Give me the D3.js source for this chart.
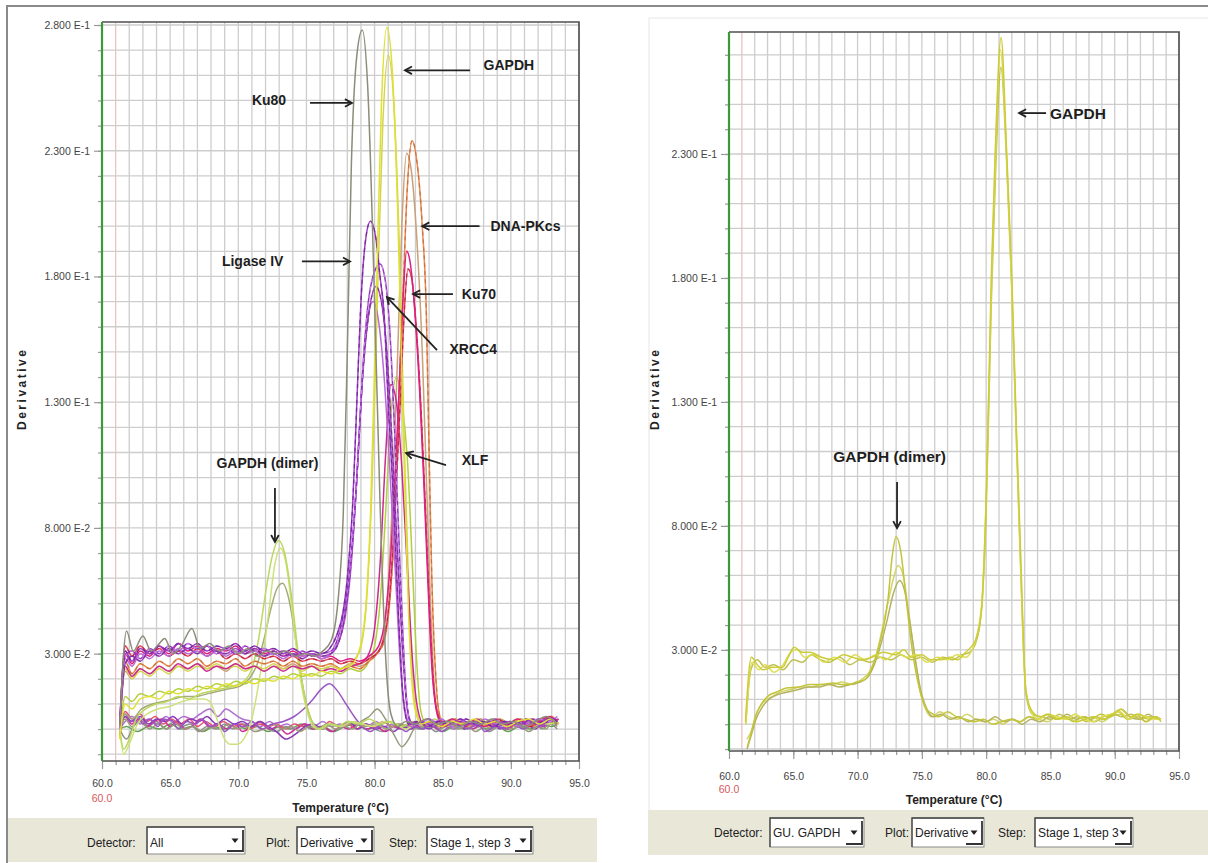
<!DOCTYPE html>
<html>
<head>
<meta charset="utf-8">
<script src="https://cdn.jsdelivr.net/npm/d3@7"></script>
<style>
  body { margin: 0; background: #fff; }
  svg { display: block; font-family: "Liberation Sans", Arial, sans-serif; }
</style>
</head>
<body>
<svg id="fig" width="1208" height="863"></svg>
<script>
// ---------- Axis ticks ----------
const xTickValues = [60, 65, 70, 75, 80, 85, 90, 95];
const leftYTicks = [0.03, 0.08, 0.13, 0.18, 0.23, 0.28];
const leftYTickLabels = ["3.000 E-2", "8.000 E-2", "1.300 E-1", "1.800 E-1", "2.300 E-1", "2.800 E-1"];
const rightYTicks = [0.03, 0.08, 0.13, 0.18, 0.23];
const rightYTickLabels = ["3.000 E-2", "8.000 E-2", "1.300 E-1", "1.800 E-1", "2.300 E-1"];

// ---------- Melt curves, all detectors: [temperature °C, -dF/dT] ----------
const ku80 = [[61.3,.001],[61.8,.039],[62.3,.031],[63.0,.037],[63.6,.031],[64.2,.034],[64.6,.036],[65.2,.030],[65.8,.033],[66.6,.040],[67.2,.032],[67.9,.034],[68.6,.031],[69.3,.033],[70.0,.030],[70.7,.032],[71.4,.029],[72.1,.031],[72.8,.030],[73.5,.031],[74.2,.029],[74.9,.030],[75.6,.029],[76.2,.031],[76.8,.035],[77.3,.050],[77.7,.085],[78.0,.150],[78.3,.225],[78.7,.268],[79.1,.278],[79.5,.255],[80.0,.170],[80.4,.090],[80.8,.030],[81.2,.006],[81.7,.001],[82.3,.003],[83.0,.002],[83.8,.004],[84.6,.002],[85.4,.003],[86.2,.001],[87.0,.003],[87.8,.002],[88.6,.004],[89.4,.002],[90.2,.003],[91.0,.001],[91.8,.003],[92.6,.005],[93.4,.002]];
const gapdhA = [[61.3,-.004],[61.7,.010],[62.2,.008],[62.8,.012],[63.5,.013],[64.2,.012],[64.9,.015],[65.6,.014],[66.3,.016],[67.0,.015],[67.7,.017],[68.4,.016],[69.1,.018],[69.8,.017],[70.5,.019],[71.2,.018],[71.9,.020],[72.6,.019],[73.3,.021],[74.0,.020],[74.7,.022],[75.4,.021],[76.1,.023],[76.8,.022],[77.5,.024],[78.2,.025],[78.8,.030],[79.3,.045],[79.7,.085],[80.1,.165],[80.5,.248],[80.9,.279],[81.3,.262],[81.7,.205],[82.1,.120],[82.5,.045],[82.9,.010],[83.4,.002],[84.1,.003],[84.9,.001],[85.7,.003],[86.5,.002],[87.3,.004],[88.1,.002],[88.9,.003],[89.7,.001],[90.5,.003],[91.3,.004],[92.1,.002],[92.9,.004],[93.4,.002]];
const gapdhB = [[61.3,.000],[61.7,.024],[62.2,.020],[62.8,.023],[63.5,.021],[64.2,.024],[64.9,.022],[65.6,.025],[66.3,.023],[67.0,.025],[67.7,.024],[68.4,.026],[69.1,.024],[69.8,.025],[70.5,.023],[71.2,.025],[71.9,.024],[72.6,.026],[73.3,.024],[74.0,.025],[74.7,.023],[75.4,.025],[76.1,.024],[76.8,.025],[77.5,.024],[78.2,.026],[78.9,.031],[79.4,.050],[79.8,.095],[80.2,.170],[80.6,.240],[81.0,.268],[81.4,.250],[81.8,.195],[82.2,.110],[82.6,.040],[83.0,.009],[83.5,.002],[84.2,.003],[85.0,.002],[85.8,.004],[86.6,.002],[87.4,.003],[88.2,.001],[89.0,.003],[89.8,.002],[90.6,.004],[91.4,.002],[92.2,.003],[93.0,.004],[93.5,.002]];
const dnapkA = [[61.3,.000],[61.7,.027],[62.2,.022],[62.8,.026],[63.5,.024],[64.2,.027],[64.9,.025],[65.6,.028],[66.3,.026],[67.0,.028],[67.7,.025],[68.4,.027],[69.1,.026],[69.8,.028],[70.5,.025],[71.2,.027],[71.9,.026],[72.6,.027],[73.3,.025],[74.0,.027],[74.7,.025],[75.4,.026],[76.1,.025],[76.8,.026],[77.5,.024],[78.2,.025],[78.9,.024],[79.6,.027],[80.2,.030],[80.7,.035],[81.1,.050],[81.5,.085],[81.8,.135],[82.1,.175],[82.4,.215],[82.75,.234],[83.1,.226],[83.5,.200],[83.8,.165],[84.0,.110],[84.2,.060],[84.5,.020],[84.8,.005],[85.2,.002],[85.9,.004],[86.7,.002],[87.5,.003],[88.3,.001],[89.1,.003],[89.9,.002],[90.7,.004],[91.5,.002],[92.3,.003],[93.0,.005],[93.5,.002]];
const dnapkB = [[61.3,.001],[61.7,.023],[62.2,.020],[62.8,.024],[63.5,.022],[64.2,.025],[64.9,.023],[65.6,.025],[66.3,.024],[67.0,.026],[67.7,.024],[68.4,.025],[69.1,.023],[69.8,.026],[70.5,.024],[71.2,.025],[71.9,.023],[72.6,.025],[73.3,.024],[74.0,.026],[74.7,.024],[75.4,.025],[76.1,.023],[76.8,.025],[77.5,.024],[78.2,.026],[78.9,.025],[79.6,.027],[80.1,.030],[80.5,.033],[80.9,.050],[81.3,.090],[81.7,.150],[82.0,.200],[82.35,.229],[82.7,.222],[83.1,.195],[83.5,.150],[83.8,.100],[84.1,.050],[84.4,.015],[84.7,.004],[85.2,.002],[86.0,.003],[86.8,.001],[87.6,.003],[88.4,.002],[89.2,.004],[90.0,.002],[90.8,.003],[91.6,.001],[92.4,.003],[93.1,.004],[93.5,.002]];
const ku70A = [[61.3,.001],[61.7,.030],[62.2,.026],[62.8,.031],[63.5,.029],[64.2,.033],[64.9,.030],[65.6,.034],[66.3,.031],[67.0,.033],[67.7,.030],[68.4,.032],[69.1,.031],[69.8,.033],[70.5,.030],[71.2,.032],[71.9,.030],[72.6,.031],[73.3,.029],[74.0,.031],[74.7,.029],[75.4,.030],[76.1,.028],[76.8,.029],[77.5,.027],[78.2,.028],[78.9,.027],[79.6,.029],[80.3,.033],[80.8,.045],[81.2,.070],[81.5,.100],[81.8,.135],[82.1,.172],[82.35,.190],[82.6,.186],[82.9,.170],[83.3,.135],[83.6,.100],[83.9,.060],[84.2,.025],[84.6,.006],[85.0,.002],[85.7,.004],[86.5,.002],[87.3,.003],[88.1,.001],[88.9,.003],[89.7,.002],[90.5,.004],[91.3,.002],[92.1,.003],[92.8,.005],[93.4,.003]];
const ku70B = [[61.3,.000],[61.7,.033],[62.2,.029],[62.8,.033],[63.5,.030],[64.2,.032],[64.9,.029],[65.6,.031],[66.3,.029],[67.0,.032],[67.7,.029],[68.4,.031],[69.1,.028],[69.8,.030],[70.5,.028],[71.2,.030],[71.9,.028],[72.6,.029],[73.3,.027],[74.0,.029],[74.7,.027],[75.4,.028],[76.1,.027],[76.8,.028],[77.5,.026],[78.2,.027],[78.9,.026],[79.6,.028],[80.3,.031],[80.9,.042],[81.3,.068],[81.6,.098],[81.9,.132],[82.2,.168],[82.45,.183],[82.7,.180],[83.0,.164],[83.4,.128],[83.7,.092],[84.0,.052],[84.3,.020],[84.7,.005],[85.1,.002],[85.8,.003],[86.6,.001],[87.4,.003],[88.2,.002],[89.0,.004],[89.8,.002],[90.6,.003],[91.4,.001],[92.2,.003],[92.9,.004],[93.4,.002]];
const ligaseA = [[61.3,.002],[61.7,.031],[62.2,.027],[62.8,.032],[63.5,.030],[64.2,.033],[64.9,.031],[65.6,.034],[66.3,.032],[67.0,.034],[67.7,.031],[68.4,.033],[69.1,.032],[69.8,.034],[70.5,.031],[71.2,.033],[71.9,.031],[72.6,.032],[73.3,.030],[74.0,.032],[74.7,.030],[75.4,.031],[76.1,.030],[76.7,.032],[77.2,.037],[77.7,.047],[78.0,.060],[78.4,.090],[78.7,.130],[79.0,.170],[79.35,.195],[79.7,.202],[80.1,.195],[80.4,.180],[80.7,.165],[81.0,.130],[81.4,.090],[81.8,.040],[82.1,.012],[82.5,.002],[83.1,.003],[83.9,.001],[84.7,.003],[85.5,.002],[86.3,.004],[87.1,.002],[87.9,.003],[88.7,.001],[89.5,.003],[90.3,.002],[91.1,.004],[91.9,.002],[92.7,.004],[93.4,.003]];
const ligaseB = [[61.3,.001],[61.7,.028],[62.2,.025],[62.8,.030],[63.5,.028],[64.2,.031],[64.9,.029],[65.6,.032],[66.3,.030],[67.0,.031],[67.7,.029],[68.4,.031],[69.1,.029],[69.8,.031],[70.5,.030],[71.2,.031],[71.9,.029],[72.6,.030],[73.3,.028],[74.0,.030],[74.7,.029],[75.4,.030],[76.1,.028],[76.8,.030],[77.3,.034],[77.8,.043],[78.2,.060],[78.6,.090],[79.0,.130],[79.4,.160],[79.9,.170],[80.3,.162],[80.7,.140],[81.1,.105],[81.5,.065],[81.9,.025],[82.3,.006],[82.7,.001],[83.3,.003],[84.1,.002],[84.9,.004],[85.7,.001],[86.5,.003],[87.3,.002],[88.1,.004],[88.9,.002],[89.7,.003],[90.5,.001],[91.3,.003],[92.1,.002],[92.9,.004],[93.4,.002]];
const xrcc4A = [[61.3,.000],[61.7,.029],[62.2,.031],[62.8,.028],[63.5,.032],[64.2,.030],[64.9,.033],[65.6,.031],[66.3,.034],[67.0,.032],[67.7,.033],[68.4,.030],[69.1,.032],[69.8,.030],[70.5,.033],[71.2,.031],[71.9,.032],[72.6,.030],[73.3,.031],[74.0,.029],[74.7,.031],[75.4,.029],[76.1,.030],[76.8,.031],[77.3,.036],[77.8,.048],[78.3,.070],[78.7,.100],[79.1,.140],[79.5,.168],[80.0,.182],[80.4,.185],[80.8,.178],[81.1,.160],[81.5,.115],[81.9,.060],[82.3,.015],[82.6,.003],[83.2,.002],[84.0,.004],[84.8,.002],[85.6,.003],[86.4,.001],[87.2,.003],[88.0,.002],[88.8,.004],[89.6,.001],[90.4,.003],[91.2,.002],[92.0,.004],[92.8,.003],[93.4,.005]];
const xrcc4B = [[61.3,.001],[61.7,.026],[62.2,.029],[62.8,.027],[63.5,.031],[64.2,.029],[64.9,.032],[65.6,.030],[66.3,.032],[67.0,.030],[67.7,.033],[68.4,.031],[69.1,.030],[69.8,.032],[70.5,.030],[71.2,.032],[71.9,.029],[72.6,.031],[73.3,.029],[74.0,.030],[74.7,.028],[75.4,.030],[76.1,.029],[76.8,.030],[77.4,.035],[77.9,.048],[78.3,.068],[78.7,.100],[79.1,.138],[79.6,.166],[80.1,.176],[80.5,.170],[80.9,.150],[81.3,.112],[81.7,.068],[82.1,.028],[82.4,.008],[82.8,.002],[83.5,.003],[84.3,.001],[85.1,.003],[85.9,.002],[86.7,.004],[87.5,.002],[88.3,.003],[89.1,.001],[89.9,.003],[90.7,.002],[91.5,.004],[92.3,.002],[93.1,.004],[93.4,.003]];
const xlfA = [[61.3,.000],[61.7,.025],[62.2,.021],[62.8,.024],[63.5,.022],[64.2,.025],[64.9,.023],[65.6,.026],[66.3,.024],[67.0,.026],[67.7,.023],[68.4,.025],[69.1,.024],[69.8,.026],[70.5,.024],[71.2,.025],[71.9,.023],[72.6,.025],[73.3,.023],[74.0,.025],[74.7,.024],[75.4,.025],[76.1,.023],[76.8,.024],[77.5,.023],[78.2,.025],[78.9,.026],[79.5,.029],[80.0,.040],[80.4,.065],[80.8,.108],[81.2,.137],[81.6,.130],[82.0,.104],[82.4,.064],[82.8,.026],[83.2,.007],[83.6,.002],[84.3,.003],[85.1,.001],[85.9,.003],[86.7,.002],[87.5,.004],[88.3,.002],[89.1,.003],[89.9,.001],[90.7,.003],[91.5,.002],[92.3,.004],[93.0,.003],[93.5,.004]];
const xlfB = [[61.3,-.003],[61.7,.013],[62.2,.011],[62.8,.014],[63.5,.013],[64.2,.015],[64.9,.014],[65.6,.016],[66.3,.015],[67.0,.017],[67.7,.016],[68.4,.018],[69.1,.017],[69.8,.019],[70.5,.018],[71.2,.020],[71.9,.019],[72.6,.021],[73.3,.020],[74.0,.022],[74.7,.021],[75.4,.022],[76.1,.021],[76.8,.023],[77.5,.022],[78.2,.024],[78.9,.023],[79.5,.026],[80.0,.033],[80.4,.050],[80.8,.085],[81.2,.125],[81.6,.140],[82.0,.130],[82.4,.108],[82.8,.062],[83.1,.026],[83.4,.007],[83.8,.002],[84.5,.003],[85.3,.001],[86.1,.003],[86.9,.002],[87.7,.004],[88.5,.002],[89.3,.003],[90.1,.001],[90.9,.003],[91.7,.002],[92.5,.004],[93.2,.002]];
const dimerA = [[61.3,.000],[61.6,-.008],[62.0,-.004],[62.5,.004],[63.2,.008],[64.0,.010],[64.8,.011],[65.6,.013],[66.4,.012],[67.2,.014],[68.0,.015],[68.8,.016],[69.6,.017],[70.4,.019],[71.0,.024],[71.5,.036],[72.0,.054],[72.5,.069],[72.95,.075],[73.4,.070],[73.9,.053],[74.4,.030],[74.9,.012],[75.4,.003],[75.9,.000],[76.6,.002],[77.3,.001],[78.0,.003],[78.8,.002],[79.6,.004],[80.4,.002],[81.2,.003],[82.0,.001],[82.8,.003],[83.6,.002],[84.4,.004],[85.2,.002],[86.0,.003],[86.8,.001],[87.6,.003],[88.4,.002],[89.2,.004],[90.0,.002],[90.8,.003],[91.6,.002],[92.4,.004],[93.2,.003],[93.5,.002]];
const dimerB = [[61.3,.000],[61.7,.006],[62.2,.004],[62.9,.008],[63.7,.010],[64.5,.011],[65.3,.012],[66.1,.013],[66.9,.013],[67.7,.014],[68.5,.015],[69.3,.016],[70.1,.017],[70.8,.020],[71.4,.026],[71.9,.036],[72.4,.048],[72.85,.056],[73.25,.058],[73.7,.052],[74.2,.036],[74.7,.018],[75.2,.006],[75.7,.001],[76.2,.000],[76.9,.002],[77.7,.001],[78.5,.003],[79.3,.001],[80.1,.002],[80.9,.000],[81.7,.002],[82.5,.001],[83.3,.003],[84.1,.001],[84.9,.002],[85.7,.004],[86.5,.002],[87.3,.003],[88.1,.001],[88.9,.003],[89.7,.002],[90.5,.004],[91.3,.002],[92.1,.003],[92.9,.002],[93.4,.004]];
const dimerC = [[61.3,.000],[61.6,-.010],[62.0,-.006],[62.6,.002],[63.3,.006],[64.1,.008],[65.0,.009],[65.9,.011],[66.8,.012],[67.5,.012],[67.9,.011],[68.5,.003],[69.0,-.004],[69.4,-.006],[69.9,-.006],[70.4,-.004],[70.9,.002],[71.3,.012],[71.7,.025],[72.2,.045],[72.7,.066],[73.1,.072],[73.5,.066],[74.0,.045],[74.5,.022],[75.0,.008],[75.5,.001],[76.0,.000],[76.7,.002],[77.5,.001],[78.3,.003],[79.1,.002],[79.9,.001],[80.7,.003],[81.5,.002],[82.3,.000],[83.1,.002],[83.9,.001],[84.7,.003],[85.5,.002],[86.3,.001],[87.1,.003],[87.9,.002],[88.7,.004],[89.5,.002],[90.3,.003],[91.1,.001],[91.9,.003],[92.7,.002],[93.4,.003]];
// no-template controls
const ntcA = [[61.3,-.001],[61.7,.006],[62.1,.003],[62.6,.005],[63.0,.002],[63.5,.004],[64.1,.001],[64.5,.004],[65.2,.003],[65.6,.000],[66.2,.003],[66.9,.002],[67.3,.004],[68.0,.001],[68.6,.002],[69.0,-.001],[69.7,.002],[70.4,.001],[71.0,.003],[71.7,.000],[72.5,.002],[73.3,.003],[74.1,.005],[74.8,.008],[75.5,.012],[76.1,.016],[76.7,.018],[77.3,.015],[77.9,.010],[78.5,.005],[79.1,.001],[79.7,-.001],[80.3,.001],[81.0,.000],[81.6,.002],[82.3,-.001],[82.9,.001],[83.6,.000],[84.2,.002],[84.9,-.001],[85.5,.001],[86.3,.002],[86.8,.000],[87.6,.002],[88.1,-.001],[88.9,.001],[89.6,.000],[90.2,.002],[90.9,.000],[91.5,.002],[92.2,.001],[92.8,.003],[93.3,.002]];
const ntcB = [[61.3,-.002],[61.7,.005],[62.2,.002],[62.7,.004],[63.3,.001],[63.8,.003],[64.4,.004],[65.0,.001],[65.5,.003],[66.1,.000],[66.8,.002],[67.2,.004],[67.9,.001],[68.5,.002],[69.2,.000],[69.8,.002],[70.3,-.001],[71.0,.001],[71.6,.003],[72.3,.000],[72.9,.001],[73.6,-.002],[74.2,.000],[74.9,.002],[75.5,.000],[76.2,.001],[76.9,-.001],[77.5,.001],[78.1,.000],[78.8,.002],[79.4,.000],[80.1,.001],[80.8,-.001],[81.4,.001],[82.1,.000],[82.7,.002],[83.4,.001],[84.0,.003],[84.6,.000],[85.3,.002],[85.9,.001],[86.6,.003],[87.2,.000],[87.8,.002],[88.5,.001],[89.1,.003],[89.8,.000],[90.4,.002],[91.1,.001],[91.7,.003],[92.4,.001],[92.9,.004],[93.4,.002]];
const ntcC = [[61.3,.000],[61.8,-.004],[62.3,.001],[62.9,.004],[63.4,.001],[64.0,.003],[64.7,.000],[65.3,.003],[65.8,.001],[66.5,.002],[67.1,-.001],[67.7,.001],[68.4,.000],[69.0,.002],[69.6,.000],[70.3,.002],[70.9,.001],[71.5,.003],[72.2,.000],[72.8,-.001],[73.5,.001],[74.1,.000],[74.8,.002],[75.4,.000],[76.1,.001],[76.8,-.001],[77.4,.000],[78.1,.002],[78.7,.000],[79.3,.002],[80.0,.000],[80.6,-.001],[81.3,.001],[81.9,.000],[82.6,.002],[83.2,.000],[83.9,.001],[84.5,-.001],[85.2,.001],[85.8,.000],[86.5,.002],[87.1,.000],[87.8,.001],[88.4,-.001],[89.1,.001],[89.7,.000],[90.4,.002],[91.0,.000],[91.7,.002],[92.3,.000],[92.9,.002],[93.4,.000]];
const ntcD = [[61.3,.000],[61.7,.004],[62.2,.001],[62.8,.003],[63.5,.000],[64.1,.002],[64.8,.000],[65.4,.002],[66.0,.000],[66.7,.001],[67.3,-.001],[68.0,.001],[68.6,.000],[69.3,.002],[69.9,.000],[70.6,.001],[71.2,-.001],[71.9,.000],[72.6,.002],[73.2,.000],[73.9,.001],[74.5,-.001],[75.2,.001],[75.8,.000],[76.5,.002],[77.1,.000],[77.8,.001],[78.4,.000],[79.0,.003],[79.6,.005],[80.2,.008],[80.8,.004],[81.4,-.002],[82.0,-.007],[82.5,-.004],[82.9,.000],[83.5,.001],[84.2,.003],[84.8,.000],[85.5,.002],[86.1,.000],[86.8,.001],[87.4,-.001],[88.1,.001],[88.7,.000],[89.4,.002],[90.0,.000],[90.7,.001],[91.3,-.001],[92.0,.001],[92.6,.000],[93.0,.003],[93.4,.001]];
const ntcE = [[61.3,.001],[61.7,.005],[62.2,.003],[62.8,.005],[63.4,.002],[64.0,.004],[64.6,.003],[65.2,.005],[65.9,.002],[66.5,.004],[67.1,.003],[67.7,.005],[68.4,.002],[69.0,.004],[69.7,.002],[70.3,.003],[71.0,.001],[71.6,.003],[72.2,.001],[72.8,-.001],[73.5,-.004],[74.2,-.002],[74.9,.001],[75.5,.002],[76.2,.000],[76.8,.002],[77.5,.001],[78.1,.003],[78.8,.000],[79.4,.002],[80.1,.000],[80.7,.001],[81.4,-.001],[82.0,.001],[82.7,.000],[83.3,.002],[84.0,.000],[84.6,.002],[85.3,.001],[85.9,.003],[86.6,.000],[87.2,.002],[87.9,.001],[88.5,.003],[89.2,.000],[89.8,.002],[90.5,.001],[91.1,.002],[91.8,.000],[92.4,.003],[92.9,.002],[93.3,.004]];
const ntcF = [[61.3,.000],[61.7,.003],[62.2,.005],[62.8,.002],[63.4,.004],[64.0,.002],[64.7,.005],[65.3,.003],[66.0,.005],[66.6,.004],[67.2,.006],[67.9,.008],[68.5,.005],[69.1,.008],[69.7,.006],[70.3,.004],[71.0,.003],[71.6,.001],[72.3,.003],[72.9,.001],[73.6,.002],[74.2,.000],[74.9,.002],[75.5,.001],[76.2,.003],[76.8,.001],[77.5,.002],[78.1,.000],[78.8,.002],[79.4,.001],[80.1,.003],[80.7,.001],[81.4,.002],[82.0,.000],[82.7,.002],[83.3,.001],[84.0,.003],[84.6,.001],[85.3,.002],[85.9,.000],[86.6,.002],[87.2,.001],[87.9,.003],[88.5,.001],[89.2,.002],[89.8,.000],[90.5,.002],[91.1,.001],[91.8,.003],[92.4,.001],[93.0,.004],[93.4,.003]];
const ntcG = [[61.3,.000],[61.8,.001],[62.6,-.001],[63.4,.001],[64.2,.000],[65.0,.002],[65.8,.000],[66.6,.001],[67.4,-.001],[68.2,.001],[69.0,.000],[69.8,.002],[70.6,.000],[71.4,.001],[72.2,-.001],[73.0,.001],[73.8,.000],[74.6,.002],[75.4,.000],[76.2,.001],[77.0,-.001],[77.8,.001],[78.6,.002],[79.4,.000],[80.2,.001],[81.0,.003],[81.8,.001],[82.6,.002],[83.4,.000],[84.2,.001],[85.0,-.001],[85.8,.001],[86.6,.000],[87.4,.002],[88.2,.000],[89.0,.001],[89.8,-.001],[90.6,.001],[91.4,.000],[92.2,.002],[93.0,.001],[93.4,.002]];
const ntcH = [[61.3,.000],[61.7,.007],[62.2,.004],[62.8,.006],[63.3,.003],[63.9,.005],[64.5,.002],[65.1,.004],[65.7,.002],[66.4,.004],[67.0,.001],[67.6,.003],[68.3,.001],[68.9,.003],[69.6,.001],[70.2,.002],[70.9,.000],[71.5,.002],[72.2,.001],[72.8,.002],[73.5,.000],[74.1,.002],[74.8,.001],[75.4,.002],[76.1,.000],[76.7,.003],[77.4,.001],[78.0,.002],[78.7,.000],[79.3,.002],[80.0,.001],[80.6,.003],[81.3,.001],[81.9,.002],[82.6,.000],[83.2,.002],[83.9,.004],[84.5,.002],[85.2,.003],[85.8,.001],[86.5,.003],[87.1,.001],[87.8,.004],[88.4,.002],[89.1,.003],[89.7,.001],[90.4,.003],[91.0,.002],[91.7,.004],[92.3,.002],[92.9,.005],[93.2,.003],[93.5,.004]];

// ---------- Melt curves, GAPDH detector only ----------
const gapdhRunA = [[61.28,.001],[61.74,.027],[62.2,.024],[62.65,.022],[63.4,.023],[64.17,.023],[64.6,.027],[65.07,.031],[65.7,.029],[66.3,.029],[67.2,.027],[68.1,.026],[68.9,.028],[69.6,.027],[70.4,.026],[71.1,.027],[72.0,.029],[72.97,.028],[73.6,.030],[74.17,.027],[75.0,.028],[75.7,.026],[76.5,.026],[77.2,.027],[77.8,.026],[78.4,.029],[78.8,.031],[79.18,.034],[79.64,.046],[80.0,.090],[80.4,.180],[80.7,.230],[81.16,.277],[81.6,.230],[82.0,.180],[82.35,.120],[82.7,.066],[83.1,.013],[83.6,.005],[84.2,.003],[84.9,.004],[85.6,.002],[86.3,.003],[87.0,.001],[87.7,.002],[88.4,.003],[89.1,.002],[89.8,.004],[90.5,.006],[91.2,.003],[91.9,.004],[92.6,.002],[93.2,.003],[93.6,.001]];
const gapdhRunB = [[61.3,.000],[61.8,.025],[62.3,.022],[62.8,.024],[63.5,.021],[64.2,.024],[64.8,.029],[65.3,.030],[65.9,.027],[66.6,.028],[67.4,.025],[68.2,.027],[69.0,.025],[69.8,.028],[70.6,.026],[71.4,.028],[72.2,.026],[73.0,.029],[73.8,.027],[74.6,.028],[75.4,.025],[76.2,.027],[77.0,.026],[77.7,.028],[78.4,.027],[78.9,.030],[79.3,.036],[79.7,.052],[80.05,.100],[80.45,.185],[80.75,.232],[81.1,.272],[81.55,.235],[81.95,.182],[82.3,.125],[82.65,.070],[83.05,.016],[83.5,.005],[84.1,.002],[84.8,.004],[85.5,.003],[86.2,.002],[86.9,.004],[87.6,.002],[88.3,.001],[89.0,.003],[89.7,.004],[90.4,.005],[91.1,.002],[91.8,.004],[92.5,.003],[93.2,.002],[93.6,.002]];
const gapdhRunC = [[61.3,.000],[61.7,.022],[62.2,.026],[62.8,.023],[63.5,.024],[64.2,.022],[65.0,.026],[65.7,.025],[66.4,.028],[67.1,.026],[67.8,.025],[68.6,.027],[69.4,.024],[70.2,.026],[71.0,.025],[71.8,.027],[72.6,.026],[73.4,.028],[74.2,.026],[75.0,.027],[75.8,.025],[76.6,.027],[77.4,.026],[78.1,.028],[78.7,.029],[79.2,.033],[79.6,.044],[80.0,.085],[80.4,.170],[80.75,.225],[81.15,.265],[81.6,.226],[82.0,.175],[82.35,.115],[82.7,.060],[83.1,.012],[83.6,.004],[84.3,.003],[85.0,.002],[85.7,.004],[86.4,.002],[87.1,.003],[87.8,.001],[88.5,.003],[89.2,.002],[89.9,.004],[90.6,.003],[91.3,.004],[92.0,.002],[92.7,.003],[93.4,.002]];
const dimerRunA = [[61.43,-.009],[61.7,-.004],[62.04,.003],[62.5,.008],[62.95,.011],[63.7,.013],[64.46,.0146],[65.4,.015],[66.29,.016],[67.2,.016],[68.1,.0166],[68.7,.016],[69.3,.016],[69.9,.017],[70.54,.018],[71.14,.023],[71.74,.033],[72.36,.050],[72.7,.068],[73.0,.0756],[73.35,.070],[73.75,.052],[74.17,.033],[74.78,.015],[75.39,.006],[75.9,.004],[76.3,.003],[77.0,.005],[77.7,.003],[78.4,.002],[79.1,.001],[79.8,.002],[80.5,.000],[81.2,.001],[81.9,.002],[82.6,.001],[83.3,.003],[84.0,.002],[84.7,.004],[85.4,.002],[86.1,.003],[86.8,.001],[87.5,.003],[88.2,.002],[88.9,.004],[89.6,.003],[90.3,.005],[91.0,.002],[91.7,.004],[92.4,.001],[93.1,.003],[93.6,.002]];
const dimerRunB = [[61.4,-.010],[61.7,-.005],[62.1,.002],[62.6,.007],[63.1,.010],[63.8,.012],[64.6,.013],[65.4,.014],[66.2,.015],[67.0,.015],[67.8,.016],[68.6,.015],[69.4,.016],[70.2,.017],[70.8,.019],[71.3,.024],[71.8,.032],[72.3,.042],[72.8,.053],[73.27,.058],[73.7,.053],[74.1,.040],[74.5,.026],[74.9,.014],[75.4,.006],[75.9,.003],[76.5,.004],[77.2,.002],[77.9,.003],[78.6,.001],[79.3,.002],[80.0,.001],[80.7,.003],[81.4,.001],[82.1,.002],[82.8,.000],[83.5,.002],[84.2,.001],[84.9,.003],[85.6,.002],[86.3,.004],[87.0,.002],[87.7,.003],[88.4,.001],[89.1,.003],[89.8,.004],[90.5,.006],[91.2,.003],[91.9,.002],[92.6,.004],[93.3,.002],[93.6,.002]];
const dimerRunC = [[61.4,-.006],[61.8,-.002],[62.2,.005],[62.7,.009],[63.3,.011],[64.0,.013],[64.8,.014],[65.6,.015],[66.4,.015],[67.2,.016],[68.0,.016],[68.8,.017],[69.6,.016],[70.3,.018],[70.9,.021],[71.4,.027],[71.9,.038],[72.4,.050],[72.8,.059],[73.15,.064],[73.55,.060],[73.95,.046],[74.4,.029],[74.8,.015],[75.3,.006],[75.8,.003],[76.4,.005],[77.1,.003],[77.8,.002],[78.5,.004],[79.2,.002],[79.9,.001],[80.6,.002],[81.3,.000],[82.0,.002],[82.7,.001],[83.4,.003],[84.1,.002],[84.8,.001],[85.5,.003],[86.2,.002],[86.9,.004],[87.6,.002],[88.3,.003],[89.0,.001],[89.7,.003],[90.4,.004],[91.1,.002],[91.8,.003],[92.5,.001],[93.2,.003],[93.6,.002]];

// ---------- Series tables (drawing order) ----------
const leftSeries = [
  {pts: ntcG, color: "#62a050"}, {pts: ntcC, color: "#8e8e8e"}, {pts: ntcF, color: "#b070d0"},
  {pts: ntcB, color: "#cf2c96"}, {pts: ntcH, color: "#e25470"}, {pts: ntcE, color: "#8a38b8"},
  {pts: ntcD, color: "#999a7a"}, {pts: ntcA, color: "#9a56c4"},
  {pts: dimerB, color: "#a6aa78"}, {pts: dimerC, color: "#cde27a"}, {pts: dimerA, color: "#bcd860"},
  {pts: xlfB, color: "#b2cf3e"}, {pts: dnapkB, color: "#c8a07a"}, {pts: dnapkA, color: "#ee8a4e", dash: "#b86a3c"},
  {pts: gapdhB, color: "#d4d450"}, {pts: xlfA, color: "#cc2a8e"},
  {pts: ku70B, color: "#e8485e", dash: "#a8203e"}, {pts: ku70A, color: "#dc1f80"},
  {pts: ligaseB, color: "#b86ad8"}, {pts: xrcc4B, color: "#a848c8", dash: "#6a2a86"},
  {pts: xrcc4A, color: "#9430c0", dash: "#d4a0ec"}, {pts: ligaseA, color: "#a03cc8", dash: "#66248c"},
  {pts: gapdhA, color: "#e0e034"}, {pts: ku80, color: "#8c8c78"}
];
const rightSeries = [
  {pts: dimerRunC, color: "#d2d468"}, {pts: dimerRunB, color: "#b2b262"}, {pts: dimerRunA, color: "#c4c43a"},
  {pts: gapdhRunC, color: "#bfc050"}, {pts: gapdhRunB, color: "#dede52"}, {pts: gapdhRunA, color: "#cccc3a"}
];

// ---------- Annotations (in data units: temperature, derivative) ----------
const leftNotes = [
  {text: "GAPDH", at: [88.0, 0.264], from: [87.0, 0.262], to: [82.23, 0.262]},
  {text: "Ku80", at: [71.0, 0.250], from: [75.26, 0.249], to: [78.34, 0.249]},
  {text: "DNA-PKcs", at: [88.5, 0.200], from: [87.7, 0.200], to: [83.5, 0.200]},
  {text: "Ligase IV", at: [68.8, 0.186], from: [74.67, 0.186], to: [78.2, 0.186]},
  {text: "Ku70", at: [86.4, 0.173], from: [85.75, 0.173], to: [82.82, 0.173]},
  {text: "XRCC4", at: [85.5, 0.151], from: [84.58, 0.1507], to: [80.91, 0.1718]},
  {text: "XLF", at: [86.4, 0.107], from: [85.24, 0.105], to: [82.31, 0.1098]},
  {text: "GAPDH (dimer)", at: [68.4, 0.106], from: [72.69, 0.0959], to: [72.69, 0.0744]}
];
const rightNotes = [
  {text: "GAPDH", at: [84.97, 0.2465], from: [84.66, 0.2465], to: [82.56, 0.2465]},
  {text: "GAPDH (dimer)", at: [68.1, 0.108], from: [73.07, 0.0977], to: [73.07, 0.0791]}
];

// ---------- Toolbars ----------
const leftToolbar = {x: 8, y: 818, w: 589, h: 44, textY: 843, boxY: 827, boxH: 27,
  items: [{label: "Detector:", lx: 87, bx: 147, bw: 98, value: "All"},
          {label: "Plot:", lx: 266, bx: 297, bw: 77, value: "Derivative"},
          {label: "Step:", lx: 389, bx: 427, bw: 106, value: "Stage 1, step 3"}]};
const rightToolbar = {x: 648, y: 810, w: 560, h: 45, textY: 833, boxY: 818, boxH: 29,
  items: [{label: "Detector:", lx: 714, bx: 770, bw: 94, value: "GU. GAPDH"},
          {label: "Plot:", lx: 885, bx: 912, bw: 72, value: "Derivative"},
          {label: "Step:", lx: 998, bx: 1035, bw: 98, value: "Stage 1, step 3"}]};

const svg = d3.select("#fig");

// outer frame
svg.append("path").attr("d", "M7,863 L7,6 L1208,6").attr("fill", "none")
  .attr("stroke", "#8a8a8a").attr("stroke-width", 2);
// faint frame round the second screen
svg.append("path").attr("d", "M649,810 L649,18 L1208,18").attr("fill", "none")
  .attr("stroke", "#e6e6e6").attr("stroke-width", 1);

function drawPanel(cfg) {
  const x = d3.scaleLinear().domain([60, 95]).range([cfg.left, cfg.right]);
  const y = d3.scaleLinear().domain(cfg.yDomain).range([cfg.bottom, cfg.top]);
  const g = svg.append("g");

  // grid
  const gx = d3.range(61, 95);
  const gy = d3.range(-1, 29).map(k => k / 100).filter(v => y(v) >= cfg.top + 1 && y(v) <= cfg.bottom - 1);
  g.append("g").selectAll("line").data(gx).join("line")
    .attr("x1", d => x(d)).attr("x2", d => x(d)).attr("y1", cfg.top).attr("y2", cfg.bottom)
    .attr("stroke", d => d === 61 ? "#efc0c0" : "#cdcdcd").attr("stroke-width", 1.3);
  g.append("g").selectAll("line").data(gy).join("line")
    .attr("x1", cfg.left).attr("x2", cfg.right).attr("y1", d => y(d)).attr("y2", d => y(d))
    .attr("stroke", "#cdcdcd").attr("stroke-width", 1.3);

  // axes
  const styleAxis = sel => {
    sel.select(".domain").remove();
    sel.selectAll(".tick line").attr("stroke", "#9a9a9a").attr("stroke-width", 1.2);
    sel.selectAll(".tick text").attr("fill", "#444").attr("font-size", 10.5)
      .attr("font-family", "Liberation Sans, Arial, sans-serif");
  };
  g.append("g").attr("transform", `translate(${cfg.left},0)`)
    .call(d3.axisLeft(y).tickValues(gy).tickSize(4).tickFormat("")).call(styleAxis);
  g.append("g").attr("transform", `translate(${cfg.left},0)`)
    .call(d3.axisLeft(y).tickValues(cfg.yTicks).tickSize(8).tickPadding(4)
      .tickFormat((d, i) => cfg.yTickLabels[i])).call(styleAxis);
  g.append("g").attr("transform", `translate(0,${cfg.bottom})`)
    .call(d3.axisBottom(x).tickValues(gx).tickSize(4).tickFormat("")).call(styleAxis);
  const xa = g.append("g").attr("transform", `translate(0,${cfg.bottom})`)
    .call(d3.axisBottom(x).tickValues(xTickValues).tickSize(8).tickPadding(4)
      .tickFormat(d3.format(".1f"))).call(styleAxis);
  xa.selectAll(".tick text").attr("dy", null).attr("y", cfg.xLabelY - cfg.bottom);

  // secondary start-temperature readout
  g.append("text").attr("x", x(60)).attr("y", cfg.redY).attr("text-anchor", "middle")
    .attr("font-size", 10.5).attr("fill", "#d85858").text("60.0");

  // axis titles
  g.append("text").attr("x", (cfg.left + cfg.right) / 2).attr("y", cfg.titleY)
    .attr("text-anchor", "middle").attr("font-size", 12).attr("font-weight", "bold")
    .attr("fill", "#222").text("Temperature (°C)");
  g.append("text").attr("transform", `translate(${cfg.derivX},390) rotate(-90)`)
    .attr("text-anchor", "middle").attr("dominant-baseline", "central")
    .attr("font-size", 12).attr("font-weight", "bold").attr("fill", "#222")
    .attr("textLength", 80).attr("lengthAdjust", "spacing").text("Derivative");

  // curves
  const clipId = "clip" + cfg.id;
  svg.append("clipPath").attr("id", clipId).append("rect")
    .attr("x", cfg.left).attr("y", cfg.top).attr("width", cfg.right - cfg.left).attr("height", cfg.bottom - cfg.top);
  const line = d3.line().x(d => x(d[0])).y(d => y(d[1])).curve(d3.curveMonotoneX);
  const cg = g.append("g").attr("clip-path", `url(#${clipId})`);
  cfg.series.forEach(s => {
    cg.append("path").attr("d", line(s.pts)).attr("fill", "none")
      .attr("stroke", s.color).attr("stroke-width", 1.5).attr("stroke-linejoin", "round");
    if (s.dash) {
      cg.append("path").attr("d", line(s.pts)).attr("fill", "none")
        .attr("stroke", s.dash).attr("stroke-width", 1.3).attr("stroke-dasharray", "4,4")
        .attr("opacity", 0.75);
    }
  });

  // plot frame
  g.append("path")
    .attr("d", `M${cfg.left},${cfg.top} L${cfg.right},${cfg.top} L${cfg.right},${cfg.bottom} L${cfg.left},${cfg.bottom}`)
    .attr("fill", "none").attr("stroke", "#505050").attr("stroke-width", 1.7);
  g.append("line").attr("x1", cfg.left).attr("x2", cfg.left).attr("y1", cfg.top).attr("y2", cfg.bottom)
    .attr("stroke", "#3a9a3a").attr("stroke-width", 2.2);

  // annotations
  const ng = g.append("g");
  cfg.notes.forEach(n => {
    const x1 = x(n.from[0]), y1 = y(n.from[1]), x2 = x(n.to[0]), y2 = y(n.to[1]);
    const a = Math.atan2(y2 - y1, x2 - x1), L = 8, w = 0.5;
    ng.append("line").attr("x1", x1).attr("y1", y1).attr("x2", x2).attr("y2", y2)
      .attr("stroke", "#222").attr("stroke-width", 1.8);
    ng.append("path")
      .attr("d", `M${x2 - L * Math.cos(a - w)},${y2 - L * Math.sin(a - w)} L${x2},${y2} L${x2 - L * Math.cos(a + w)},${y2 - L * Math.sin(a + w)}`)
      .attr("fill", "none").attr("stroke", "#222").attr("stroke-width", 1.8);
    ng.append("text").attr("x", x(n.at[0])).attr("y", y(n.at[1])).attr("dominant-baseline", "central")
      .attr("font-size", cfg.noteSize).attr("font-weight", "bold").attr("fill", "#1e1e1e").text(n.text);
  });
}

function drawToolbar(tb) {
  const g = svg.append("g");
  g.append("rect").attr("x", tb.x).attr("y", tb.y).attr("width", tb.w).attr("height", tb.h).attr("fill", "#e9e7d8");
  tb.items.forEach(it => {
    g.append("text").attr("x", it.lx).attr("y", tb.textY).attr("dominant-baseline", "central")
      .attr("font-size", 12).attr("fill", "#222").text(it.label);
    g.append("rect").attr("x", it.bx).attr("y", tb.boxY).attr("width", it.bw).attr("height", tb.boxH)
      .attr("fill", "#fff").attr("stroke", "#8a8a8a").attr("stroke-width", 1);
    g.append("path").attr("d", `M${it.bx},${tb.boxY + tb.boxH} L${it.bx},${tb.boxY} L${it.bx + it.bw},${tb.boxY}`)
      .attr("fill", "none").attr("stroke", "#444").attr("stroke-width", 1.3);
    g.append("text").attr("x", it.bx + 3).attr("y", tb.textY).attr("dominant-baseline", "central")
      .attr("font-size", 12).attr("fill", "#222").text(it.value);
    const bw = 16, bx = it.bx + it.bw - bw - 2, by = tb.boxY + 3, bh = tb.boxH - 6;
    const cx = bx + bw / 2, cy = by + bh / 2;
    g.append("path").attr("d", `M${cx - 3.5},${cy - 2} L${cx + 3.5},${cy - 2} L${cx},${cy + 2.5} Z`).attr("fill", "#222");
    g.append("path").attr("d", `M${bx},${by + bh} L${bx + bw},${by + bh} L${bx + bw},${by}`)
      .attr("fill", "none").attr("stroke", "#333").attr("stroke-width", 1.8);
  });
}

drawPanel({id: "L", left: 102, right: 579, top: 22, bottom: 761, yDomain: [-0.0127, 0.2812],
  yTicks: leftYTicks, yTickLabels: leftYTickLabels, series: leftSeries, notes: leftNotes, noteSize: 14,
  xLabelY: 787, redY: 802, titleY: 812, derivX: 22});
drawPanel({id: "R", left: 729, right: 1179, top: 32, bottom: 751, yDomain: [-0.0108, 0.2792],
  yTicks: rightYTicks, yTickLabels: rightYTickLabels, series: rightSeries, notes: rightNotes, noteSize: 15.5,
  xLabelY: 780, redY: 793, titleY: 804, derivX: 655});
drawToolbar(leftToolbar);
drawToolbar(rightToolbar);
</script>
</body>
</html>
